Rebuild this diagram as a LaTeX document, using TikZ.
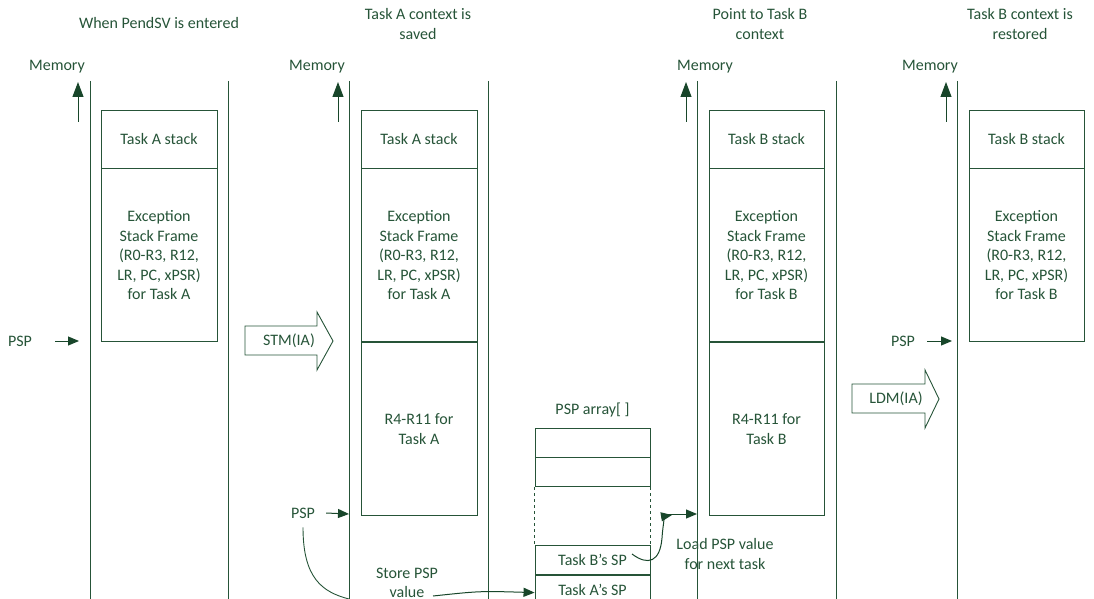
\documentclass[tikz,border=0pt]{standalone}
\usepackage{fontspec}
\setmainfont{Carlito}
\usepackage{tikz}
\usetikzlibrary{arrows.meta,positioning}
\definecolor{StackGreen}{RGB}{38,84,56}
\definecolor{TipGreen}{RGB}{24,70,42}

\begin{document}
\begin{tikzpicture}[x=1pt,y=-1pt,
    font=\fontsize{16}{19.5}\selectfont,text=StackGreen,
    every node/.style={align=center,inner sep=0pt},
    cell/.style={draw=StackGreen,line width=0.9pt,minimum width=116pt},
    slot/.style={draw=StackGreen,line width=0.9pt,minimum width=115pt,minimum height=29pt},
    wall/.style={StackGreen,line width=1pt},
    ptr/.style={-{Triangle[length=11pt,width=9pt]},TipGreen,line width=1pt},
    memptr/.style={-{Triangle[length=15pt,width=11pt]},TipGreen,line width=1pt},
    link/.style={StackGreen,line width=0.9pt},
    block/.style={StackGreen,line width=0.9pt}]
  \useasboundingbox (0,0) rectangle (1094,599);

  \node (h1) at (159,23) {When PendSV is entered};
  \node (h2) at (418,24) {Task A context is\\saved};
  \node (h3) at (760,24) {Point to Task B\\context};
  \node (h4) at (1020,24) {Task B context is\\restored};

  \foreach \wx in {90,228,349,488,697,836,957}
    \draw[wall] (\wx,81) -- (\wx,600);
  \foreach \ax/\lx in {78/57,338/317,686/705,946/930}{
    \node (mem\ax) at (\lx,67) {Memory};
    \coordinate (mlo\ax) at (\ax,122);
    \coordinate (mhi\ax) at (\ax,82);
    \draw[memptr] (mlo\ax) -- (mhi\ax);
  }

  \node[cell,minimum height=58pt] (a1) at (159,139) {Task A stack};
  \node[cell,minimum height=173pt,below=0pt of a1] (a2)
    {Exception\\Stack Frame\\(R0-R3, R12,\\LR, PC, xPSR)\\for Task A};

  \node[cell,minimum height=58pt] (b1) at (419,139) {Task A stack};
  \node[cell,minimum height=173pt,below=0pt of b1] (b2)
    {Exception\\Stack Frame\\(R0-R3, R12,\\LR, PC, xPSR)\\for Task A};
  \node[cell,minimum height=173pt,below=0pt of b2] (b3) {R4-R11 for\\Task A};

  \node[cell,minimum width=115pt,minimum height=58pt] (c1) at (766.5,139) {Task B stack};
  \node[cell,minimum width=115pt,minimum height=173pt,below=0pt of c1] (c2)
    {Exception\\Stack Frame\\(R0-R3, R12,\\LR, PC, xPSR)\\for Task B};
  \node[cell,minimum width=115pt,minimum height=173pt,below=0pt of c2] (c3) {R4-R11 for\\Task B};

  \node[cell,minimum width=115pt,minimum height=58pt] (d1) at (1026.5,139) {Task B stack};
  \node[cell,minimum width=115pt,minimum height=173pt,below=0pt of d1] (d2)
    {Exception\\Stack Frame\\(R0-R3, R12,\\LR, PC, xPSR)\\for Task B};

  \node (arr) at (592.5,410) {PSP array[ ]};
  \node[slot] (q1) at (592.5,442.5) {};
  \node[slot,below=0pt of q1] (q2) {};
  \node[minimum width=115pt,minimum height=57pt,below=0pt of q2] (q3) {};
  \node[slot,below=0pt of q3] (q4) {Task B’s SP};
  \node[slot,below=0pt of q4] (q5) {Task A’s SP};
  \draw[link,dashed] (q3.north west) -- (q3.south west);
  \draw[link,dashed] (q3.north east) -- (q3.south east);

  \node (psp1) at (20,341) {PSP};
  \coordinate (w1) at (79,341);
  \draw[ptr] ([xshift=23pt]psp1.east) -- (w1);
  \node (psp2) at (303,513) {PSP};
  \coordinate (w2) at (349,514);
  \draw[ptr] ([xshift=11pt]psp2.east) -- (w2);
  \node (psp4) at (903,341) {PSP};
  \coordinate (w4) at (952,341);
  \draw[ptr] ([xshift=12pt]psp4.east) -- (w4);

  \draw[block] (245,326) -- (317,326) -- (317,312) -- (333,341) -- (317,370)
    -- (317,355) -- (245,355) -- cycle;
  \node (stm) at (289,341) {STM(IA)};
  \draw[block] (852,384) -- (925,384) -- (925,370) -- (939,399) -- (925,428)
    -- (925,413) -- (852,413) -- cycle;
  \node (ldm) at (896,399) {LDM(IA)};

  \node (store) at (407,583) {Store PSP\\value};
  \coordinate (s0) at (433,596);
  \coordinate (s1) at (349,599);
  \draw[link] ([yshift=-9pt]psp2.south) .. controls (303,578) and (322,592) .. (s1);
  \draw[ptr] (s0) .. controls (480,591) .. ([yshift=-3pt]q5.west);

  \node (load) at (725,554) {Load PSP value\\for next task};
  \coordinate (l0) at (632,554);
  \coordinate (l1) at (672,515);
  \coordinate (l2) at (663,514);
  \coordinate (w3) at (697,514);
  \draw[ptr] (l0) .. controls (648,566) and (660,562) .. (662,538)
    .. controls (663,522) and (666,516) .. (l1);
  \draw[ptr] (l2) -- (w3);
\end{tikzpicture}
\end{document}
